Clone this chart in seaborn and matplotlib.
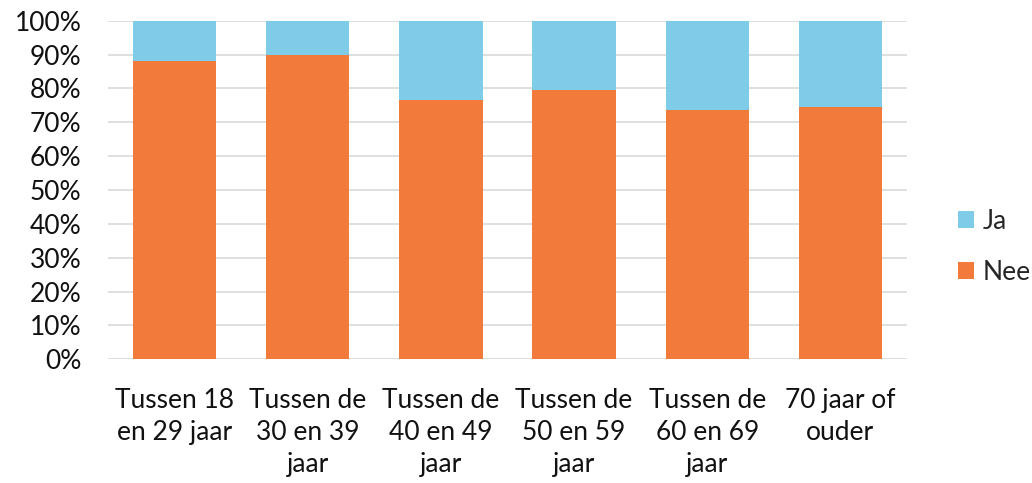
import matplotlib
matplotlib.use("Agg")
import matplotlib.pyplot as plt
from matplotlib.patches import Patch
from matplotlib.ticker import PercentFormatter
import seaborn as sns
import pandas as pd

categories = [
    "Tussen 18\nen 29 jaar",
    "Tussen de\n30 en 39\njaar",
    "Tussen de\n40 en 49\njaar",
    "Tussen de\n50 en 59\njaar",
    "Tussen de\n60 en 69\njaar",
    "70 jaar of\nouder",
]
nee = [88.2, 90.0, 76.7, 79.6, 73.5, 74.5]
ja = [11.8, 10.0, 23.3, 20.4, 26.5, 25.5]
series_labels = ["Ja", "Nee"]
y_ticks = list(range(0, 101, 10))

color_ja = "#7ECCE7"
color_nee = "#F27A3A"

df = pd.DataFrame({"categorie": categories, "Nee": nee, "Ja": ja})
df["totaal"] = df["Nee"] + df["Ja"]

sns.set_theme(style="white")
plt.rcParams["font.family"] = ["Lato", "DejaVu Sans"]

fig = plt.figure(figsize=(10.32, 4.83), dpi=100)
ax = fig.add_axes([108 / 1032, 1 - 359.3 / 483, (907 - 108) / 1032, (359.3 - 20.7) / 483])

# Stacked bars: the full stack in blue, the "Nee" part drawn over it in orange
sns.barplot(data=df, x="categorie", y="totaal", color=color_ja, width=0.625,
            saturation=1, ax=ax, zorder=3, edgecolor="none")
sns.barplot(data=df, x="categorie", y="Nee", color=color_nee, width=0.625,
            saturation=1, ax=ax, zorder=4, edgecolor="none")

ax.set_ylim(0, 100)
ax.set_xlim(-0.5, len(categories) - 0.5)
ax.set_yticks(y_ticks)
ax.yaxis.set_major_formatter(PercentFormatter(decimals=0))
ax.grid(axis="y", color="#D9D9D9", linewidth=1.2, zorder=0)
ax.grid(axis="x", visible=False)
for s in ax.spines.values():
    s.set_visible(False)
ax.set_xlabel("")
ax.set_ylabel("")
ax.tick_params(axis="both", length=0, labelsize=19, colors="#111111")
ax.tick_params(axis="y", pad=19)
ax.tick_params(axis="x", pad=21)
for lbl in ax.get_xticklabels():
    lbl.set_linespacing(1.33)
    lbl.set_horizontalalignment("center")

handles = [Patch(facecolor=color_ja, edgecolor="none"),
           Patch(facecolor=color_nee, edgecolor="none")]
leg = fig.legend(handles, series_labels, loc="center left",
                 bbox_to_anchor=(958 / 1032, 1 - 247 / 483), frameon=False,
                 fontsize=19, handlelength=0.62, handleheight=0.62,
                 handletextpad=0.3, labelspacing=1.0, borderpad=0,
                 borderaxespad=0)

fig.savefig("out.png", dpi=100)
